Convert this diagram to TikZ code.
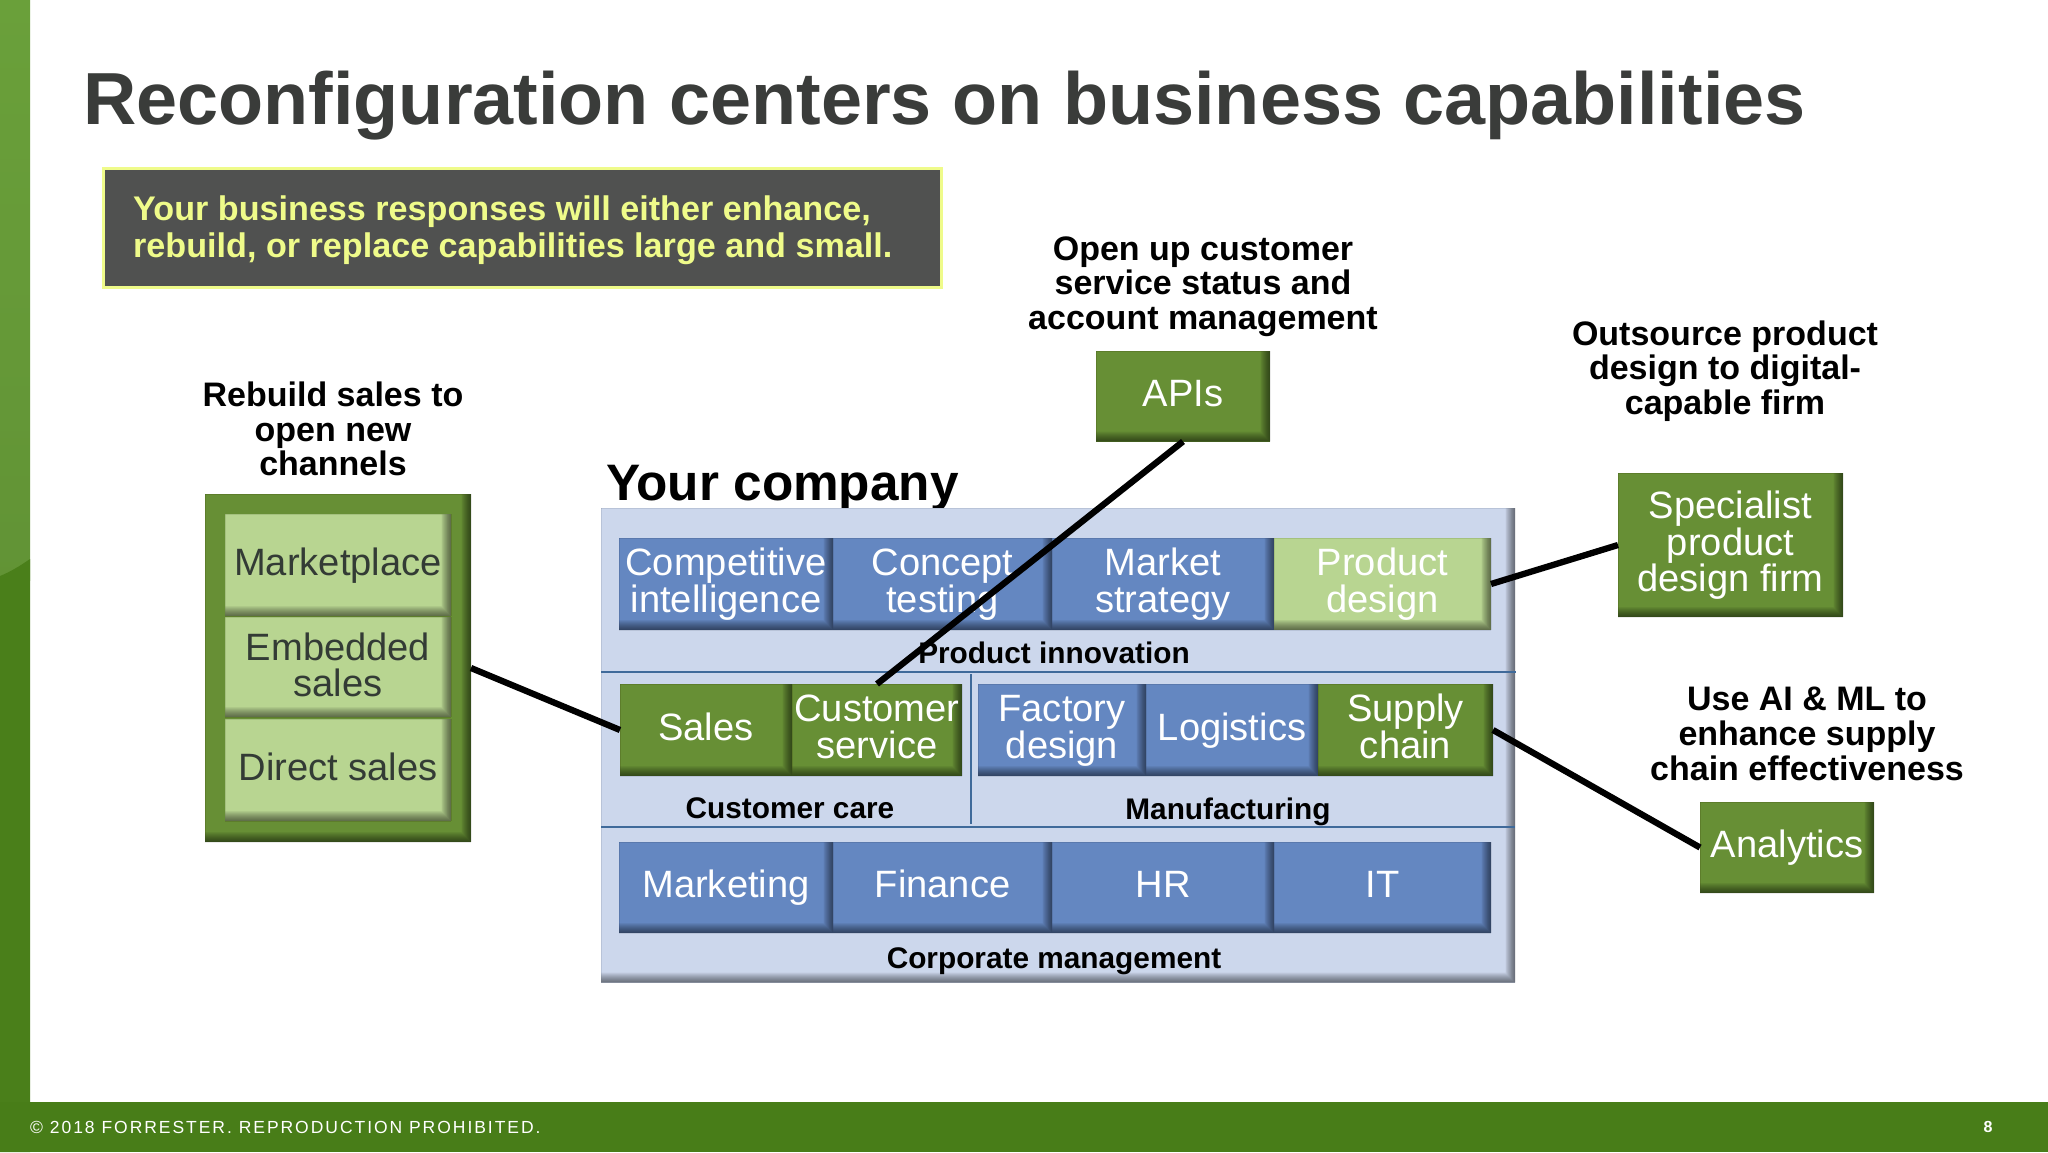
\documentclass[tikz,border=0pt]{standalone}
\usepackage{fontspec}
\setmainfont{Liberation Sans}
\newfontfamily\footfont[LetterSpace=11.2]{Liberation Sans}
\definecolor{bluebox}{HTML}{6487C1}
\definecolor{greenbox}{HTML}{678F35}
\definecolor{lightbox}{HTML}{B8D591}
\definecolor{panel}{HTML}{CCD7EC}
\definecolor{sidebar}{HTML}{6AA03A}
\definecolor{sidebardark}{HTML}{487D18}
\definecolor{darktext}{HTML}{333B35}
\definecolor{titletext}{HTML}{3A3C3A}
\definecolor{rulecol}{HTML}{3F6A9A}
\definecolor{calloutfill}{HTML}{505150}
\definecolor{calloutline}{HTML}{EFFB8A}
\tikzset{
  bevel/.style={fill=#1, draw=none, inner sep=0pt, outer sep=0pt, align=center,
    path picture={
      \foreach \w in {1,...,10}{
        \fill[black, opacity=.058, even odd rule]
          (path picture bounding box.south west) rectangle (path picture bounding box.north east)
          (path picture bounding box.north west) rectangle ([xshift=-0.95*\w pt, yshift=1.0*\w pt]path picture bounding box.south east);
      }
    }},
  boxtext/.style={font=\fontsize{38.1}{36.5}\selectfont},
  captext/.style={font=\fontsize{34}{34.7}\selectfont\bfseries, align=center, text=black, inner sep=0pt},
  rowlabel/.style={font=\fontsize{29.8}{32}\selectfont\bfseries, text=black, inner sep=0pt, anchor=base},
  linkline/.style={draw=black, line width=6.3pt},
  divider/.style={draw=rulecol, line width=1.5pt}
}
\newcommand{\st}{\rule[-8.25pt]{0pt}{36.5pt}}
\newcommand{\stlow}{\rule[-7pt]{0pt}{36.5pt}}
% \bx{name}{x0}{y0}{x1}{y1}{fill}{text colour}{text}
\newcommand{\bx}[8]{\node[bevel=#6, boxtext, text=#7, minimum width={(#4-#2)*1pt}, minimum height={(#5-#3)*1pt}]
  (#1) at ({(#2+#4)/2},{(#3+#5)/2}) {#8};}
\begin{document}
\begin{tikzpicture}[x=1pt,y=-1pt]
\useasboundingbox (0,0) rectangle (2048,1152);
\fill[white] (0,0) rectangle (2048,1152);
% frame
\shade[top color=sidebar, bottom color=sidebar!92!black] (0,0) rectangle (30,580);
\fill[sidebardark!95!sidebar] (0,576) .. controls (10,572) and (20,566) .. (30,559) -- (30,1152) -- (0,1152) -- cycle;
\fill[sidebardark] (0,1101.5) rectangle (2048,1152);
% title
\node[anchor=base west, inner sep=0pt, text=titletext, font=\fontsize{73.8}{80}\selectfont\bfseries] (title) at (83,124) {Reconfiguration centers on business capabilities};
% callout
\node[fill=calloutfill, draw=calloutline, line width=3pt, inner sep=0pt, outer sep=0pt, minimum width=838pt, minimum height=119pt] (callout) at (522.5,228) {};
\node[anchor=west, inner sep=0pt, align=left, text=calloutline, font=\fontsize{34.15}{37}\selectfont\bfseries] (callouttext) at (133,230.5) {Your business responses will either enhance,\\rebuild, or replace capabilities large and small.};
% captions
\node[captext] (capapi) at (1203,286.5) {Open up customer\\service status and\\account management};
\node[captext] (capspec) at (1725,371) {Outsource product\\design to digital-\\capable firm};
\node[captext] (capana) at (1807,734) {Use AI \& ML to\\enhance supply\\chain effectiveness};
\node[captext] (capsales) at (333,429) {Rebuild sales to\\open new\\channels};
% side boxes
\bx{apis}{1096}{351}{1270}{441.5}{greenbox}{white}{\st APIs}
\bx{spec}{1618}{473}{1843}{617}{greenbox}{white}{\st Specialist\\\st product\\\st design firm}
\bx{ana}{1700}{802}{1874}{893}{greenbox}{white}{\st Analytics}
% left group
\bx{group}{205}{494}{471}{842}{greenbox}{white}{}
\bx{market}{225}{514}{451}{616}{lightbox}{darktext}{\st Marketplace}
\bx{embedded}{225}{617}{451}{717}{lightbox}{darktext}{\stlow Embedded\\\stlow sales}
\bx{direct}{225}{719}{451}{821}{lightbox}{darktext}{\st Direct sales}
% company
\node[anchor=base west, inner sep=0pt, text=black, font=\fontsize{51.3}{52}\selectfont\bfseries] (company) at (606,500.5) {Your company};
\bx{panelbox}{601}{508}{1515}{982.5}{panel}{black}{}
\bx{ci}{619}{538}{833}{630}{bluebox}{white}{\st Competitive\\\st intelligence}
\bx{ct}{833}{538}{1052}{630}{bluebox}{white}{\st Concept\\\st testing}
\bx{ms}{1052}{538}{1274}{630}{bluebox}{white}{\st Market\\\st strategy}
\bx{pd}{1274}{538}{1491}{630}{lightbox}{white}{\st Product\\\st design}
\bx{sales}{620}{684}{792}{776}{greenbox}{white}{\st Sales}
\bx{cs}{792}{684}{962}{776}{greenbox}{white}{\st Customer\\\st service}
\bx{fd}{978}{684}{1146}{776}{bluebox}{white}{\st Factory\\\st design}
\bx{lo}{1146}{684}{1318}{776}{bluebox}{white}{\st Logistics}
\bx{sc}{1318}{684}{1493}{776}{greenbox}{white}{\st Supply\\\st chain}
\bx{mk}{619}{842}{833}{933}{bluebox}{white}{\st Marketing}
\bx{fi}{833}{842}{1052}{933}{bluebox}{white}{\st Finance}
\bx{hr}{1052}{842}{1274}{933}{bluebox}{white}{\st HR}
\bx{it}{1274}{842}{1491}{933}{bluebox}{white}{\st IT}
% dividers
\coordinate (d1a) at (601,672); \coordinate (d1b) at (1516,672);
\coordinate (d2a) at (601,827); \coordinate (d2b) at (1515,827);
\coordinate (d3a) at (971,674); \coordinate (d3b) at (971,824);
\draw[divider] (d1a) -- (d1b);
\draw[divider] (d2a) -- (d2b);
\draw[divider] (d3a) -- (d3b);
% row labels
\node[rowlabel] (lpi) at (1054,663) {Product innovation};
\node[rowlabel] (lcc) at (790,818) {Customer care};
\node[rowlabel] (lmf) at (1228,819) {Manufacturing};
\node[rowlabel] (lcm) at (1054,968) {Corporate management};
% connectors
\draw[linkline] (group.east) -- (sales.west);
\draw[linkline] (cs.north) -- (apis.south);
\draw[linkline] (pd.east) -- (spec.west);
\draw[linkline] (sc.east) -- (ana.west);
% footer
\node[anchor=west, inner sep=0pt, text=white, font=\fontsize{17.5}{20}\selectfont\footfont] (foot) at (30,1127) {© 2018 FORRESTER. REPRODUCTION PROHIBITED.};
\node[anchor=center, inner sep=0pt, text=white, font=\fontsize{16}{20}\selectfont\bfseries] (page) at (1988,1127) {8};
\end{tikzpicture}
\end{document}
